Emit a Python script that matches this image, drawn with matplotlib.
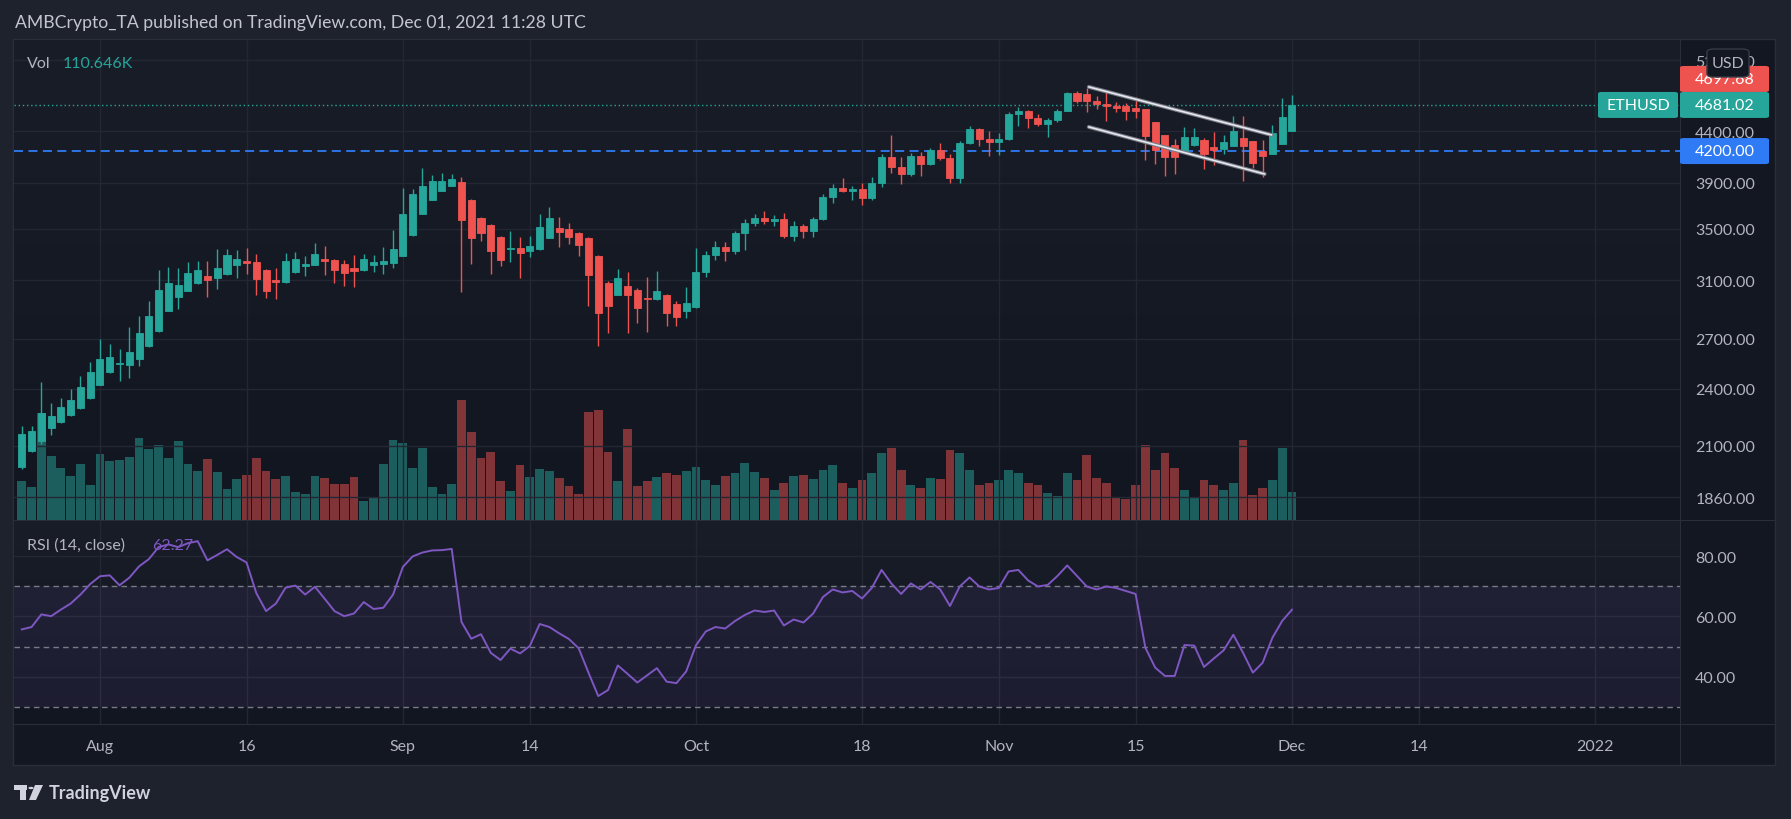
import numpy as np
import pandas as pd
import matplotlib
matplotlib.use("Agg")
import matplotlib.pyplot as plt
import matplotlib.dates as mdates
from matplotlib.patches import Rectangle, FancyBboxPatch, Polygon, Circle
from matplotlib.colors import LinearSegmentedColormap
from matplotlib.ticker import NullLocator, NullFormatter

plt.rcParams['font.family'] = ['Lato', 'DejaVu Sans']

W, H = 1791, 820

## daily ETHUSD candles, Jul 24 - Dec 1 2021
dates = pd.date_range("2021-07-24", "2021-12-01", freq="D")
opens = [1999, 2075, 2125, 2191, 2222, 2259, 2296, 2351,
         2424, 2499, 2545, 2541, 2577, 2657, 2752, 2885, 2981, 3024, 3082, 3130, 3118, 3148, 3215, 3240,
         3235, 3175, 3101, 3089, 3162, 3207, 3215, 3258, 3250, 3220, 3190, 3177, 3215, 3222, 3230,
         3284, 3450, 3625, 3746, 3826, 3872, 3905, 3743, 3588, 3530, 3431, 3338, 3343, 3322, 3338,
         3426, 3505, 3496, 3463, 3423, 3281, 3082, 2996, 3058, 3031, 2970, 2963, 2994, 2931, 2885,
         2913, 3157, 3290, 3350, 3320, 3460, 3550, 3590, 3560, 3580, 3440, 3520, 3480, 3580, 3770,
         3850, 3820, 3840, 3760, 3900, 4140, 4050, 3980, 4150, 4070, 4210, 4130, 3940, 4280, 4420,
         4320, 4290, 4320, 4580, 4610, 4540, 4480, 4520, 4620, 4810, 4800, 4720, 4690, 4673, 4670,
         4644, 4637, 4497, 4362, 4260, 4194, 4260, 4311, 4240, 4221, 4254, 4331, 4300, 4200, 4174,
         4274, 4406]
highs = [2201, 2201, 2440, 2322, 2349, 2399, 2474, 2557,
         2699, 2667, 2636, 2776, 2849, 2951, 3175, 3197, 3190, 3235, 3243, 3245, 3336, 3336, 3328, 3343,
         3296, 3180, 3190, 3304, 3312, 3281, 3383, 3359, 3255, 3250, 3289, 3296, 3289, 3351, 3488,
         3850, 3842, 4036, 3970, 3989, 3979, 3952, 3750, 3595, 3535, 3440, 3483, 3434, 3442, 3625,
         3685, 3599, 3549, 3470, 3430, 3290, 3096, 3182, 3160, 3040, 3121, 3168, 3000, 2951, 3048,
         3343, 3320, 3400, 3390, 3480, 3580, 3620, 3650, 3610, 3630, 3560, 3540, 3600, 3800, 3890,
         3940, 3870, 3900, 3950, 4170, 4360, 4140, 4180, 4190, 4230, 4280, 4170, 4300, 4450, 4430,
         4400, 4380, 4600, 4660, 4630, 4580, 4540, 4640, 4830, 4840, 4870, 4780, 4823, 4710, 4703,
         4766, 4640, 4500, 4365, 4321, 4444, 4434, 4331, 4393, 4362, 4561, 4561, 4305, 4311, 4466,
         4759, 4792]
lows = [1990, 2070, 2110, 2155, 2215, 2250, 2290, 2345,
        2420, 2490, 2447, 2460, 2535, 2650, 2745, 2880, 2899, 3020, 3075, 2981, 3038, 3140, 3118, 3145,
        2996, 2973, 2968, 3080, 3155, 3133, 3210, 3140, 3082, 3060, 3053, 3170, 3162, 3148, 3192,
        3280, 3440, 3620, 3740, 3820, 3865, 3017, 3222, 3402, 3148, 3207, 3238, 3118, 3276, 3330,
        3420, 3354, 3378, 3284, 2919, 2657, 2739, 2990, 2739, 2805, 2746, 2958, 2785, 2785, 2838,
        2905, 3120, 3250, 3240, 3300, 3330, 3520, 3540, 3520, 3420, 3400, 3420, 3430, 3570, 3720,
        3810, 3740, 3700, 3740, 3860, 3990, 3890, 3960, 3960, 4060, 4110, 3900, 3900, 4270, 4250,
        4150, 4160, 4310, 4460, 4430, 4450, 4340, 4500, 4610, 4700, 4600, 4640, 4511, 4601, 4522,
        4540, 4116, 4077, 3964, 3979, 4190, 4250, 4027, 4065, 4171, 4250, 3918, 4039, 3955, 4170,
        4270, 4400]
closes = [2158, 2174, 2266, 2252, 2300, 2338, 2411, 2497,
          2575, 2587, 2549, 2618, 2737, 2849, 3029, 3080, 3065, 3153, 3175, 3103, 3190, 3289, 3258, 3230,
          3111, 3024, 3084, 3243, 3258, 3220, 3296, 3245, 3177, 3155, 3168, 3258, 3235, 3243, 3336,
          3622, 3797, 3869, 3915, 3915, 3933, 3574, 3426, 3466, 3322, 3253, 3343, 3307, 3359, 3513,
          3588, 3472, 3434, 3370, 3140, 2871, 2919, 3116, 2996, 2905, 2962, 3024, 2871, 2845, 2940,
          3157, 3290, 3350, 3320, 3460, 3550, 3590, 3560, 3580, 3440, 3520, 3480, 3580, 3770, 3850,
          3820, 3840, 3760, 3900, 4140, 4050, 3980, 4150, 4070, 4210, 4130, 3940, 4280, 4420, 4320,
          4290, 4320, 4580, 4610, 4540, 4480, 4520, 4620, 4810, 4730, 4720, 4690, 4673, 4648, 4619,
          4619, 4355, 4214, 4145, 4145, 4341, 4341, 4174, 4214, 4291, 4403, 4254, 4087, 4155, 4382,
          4550, 4681.02]
volume_k = [157, 133, 430, 257, 209, 177, 225, 141,
            265, 237, 241, 253, 330, 286, 302, 249, 318, 225, 197, 245, 193, 125, 165, 181,
            249, 197, 165, 177, 113, 105, 177, 169, 145, 145, 173, 76, 93, 225, 322,
            310, 209, 290, 133, 105, 145, 483, 354, 249, 274, 157, 117, 221, 173, 205,
            197, 169, 137, 105, 434, 442, 274, 157, 366, 137, 157, 173, 189, 181, 197,
            213, 160, 140, 175, 190, 230, 195, 170, 120, 150, 175, 180, 165, 200, 220,
            150, 130, 160, 190, 270, 290, 200, 140, 130, 170, 165, 280, 270, 200, 140,
            150, 160, 200, 190, 150, 140, 110, 95, 190, 160, 260, 170, 150, 90, 85,
            140, 300, 200, 270, 210, 120, 90, 160, 140, 120, 150, 320, 100, 130, 160,
            290, 110.646]
rsi = [55.7, 56.5, 60.7, 60.1, 62.3, 64.3, 67.3, 70.8,
       73.4, 73.7, 70.4, 72.9, 76.7, 79.1, 83.1, 84.0, 83.1, 84.4, 85.1, 78.7, 80.5, 82.4, 79.8, 78.0,
       67.8, 61.8, 64.3, 69.6, 70.3, 67.3, 69.9, 65.9, 61.8, 60.1, 61.0, 64.8, 62.5, 62.9, 67.3,
       76.5, 80.0, 81.3, 82.0, 82.1, 82.5, 58.2, 52.6, 54.1, 47.9, 45.5, 49.3, 47.7, 50.2, 57.5,
       56.5, 54.4, 52.5, 49.4, 41.3, 33.5, 35.5, 43.7, 40.9, 38.0, 40.4, 42.8, 38.3, 37.8, 41.7,
       50.4, 55.0, 56.5, 56.0, 58.5, 60.5, 62.0, 61.5, 62.0, 57.0, 59.0, 58.0, 61.0, 66.5, 69.0,
       68.0, 68.5, 66.0, 69.5, 75.5, 71.0, 67.5, 71.0, 69.0, 71.5, 69.0, 63.5, 70.0, 73.0, 70.0,
       69.0, 69.5, 75.0, 75.5, 72.0, 70.0, 70.5, 73.5, 77.0, 73.5, 70.0, 69.0, 70.0, 69.5, 68.5,
       67.5, 49.6, 43.0, 40.2, 40.2, 50.5, 50.3, 43.2, 46.0, 48.7, 53.9, 47.9, 41.3, 44.6, 52.9,
       58.5, 62.27]

price_ticks = [1860, 2100, 2400, 2700, 3100, 3500, 3900, 4400, 5200]
rsi_ticks = [40, 60, 80]
time_ticks = ["2021-08-01", "2021-08-16", "2021-09-01", "2021-09-14", "2021-10-01", "2021-10-18",
              "2021-11-01", "2021-11-15", "2021-12-01", "2021-12-14", "2022-01-01"]
time_labels = ["Aug", "16", "Sep", "14", "Oct", "18", "Nov", "15", "Dec", "14", "2022"]

last_price = 4681.02
prev_tag = 4697.68
level = 4200.00
vol_last = "110.646K"
rsi_last = "62.27"

## falling channel drawn on the chart
upper_line = (["2021-11-10 05:00", "2021-11-28 22:00"], [4884, 4362])
lower_line = (["2021-11-10 05:00", "2021-11-28 05:00"], [4445, 3979])

UP, DOWN = "#26a69a", "#ef5350"
BLUE = "#2f7bf5"
TXT = "#b2b5be"
GRID = "#232733"
SEP = "#2a2e39"


def F(x, y):
    return x / W, 1 - y / H


def px_rect(x0, y0, x1, y1, **kw):
    return Rectangle((x0 / W, 1 - y1 / H), (x1 - x0) / W, (y1 - y0) / H,
                     transform=fig.transFigure, **kw)


fig = plt.figure(figsize=(W / 100, H / 100), dpi=100, facecolor="#1e222d")
fig.add_artist(px_rect(13, 40, 1775, 766, fc="#131722", ec=SEP, lw=1, zorder=-10))

x = mdates.date2num(dates)
x0 = mdates.date2num(pd.Timestamp("2021-08-01"))
xlim = (x0 - 8.80, x0 + 161.72)
o = np.array(opens)
c = np.array(closes)
up = c >= o
cols = np.where(up, UP, DOWN)
vcols = np.where(up, "#26a69a80", "#ef535080")
tick_x = mdates.date2num(pd.to_datetime(time_ticks))

grad = np.linspace(0, 1, 256).reshape(-1, 1)
bg_cmap = LinearSegmentedColormap.from_list("bg", ["#191d28", "#121620"])

main_rect = [14 / W, 1 - 521 / H, 1666 / W, 480 / H]
rsi_rect = [14 / W, 1 - 725 / H, 1666 / W, 203 / H]

## volume underneath
vax = fig.add_axes(main_rect)
vax.imshow(grad, cmap=bg_cmap, extent=(0, 1, 0, 1), transform=vax.transAxes, aspect="auto", zorder=0)
vax.bar(x, volume_k, width=0.9, color=vcols, lw=0, zorder=2)
vax.set_xlim(xlim)
vax.set_ylim(0, 1931)
vax.axis("off")

## candles
ax = fig.add_axes(main_rect)
ax.patch.set_visible(False)
ax.set_yscale("log")
ax.vlines(x, lows, highs, colors=cols, lw=1.0, zorder=3)
ax.bar(x, np.abs(c - o), bottom=np.minimum(o, c), width=0.72, color=cols,
       edgecolor=cols, linewidth=0.6, zorder=4)
ax.axhline(level, color=BLUE, ls=(0, (5, 3)), lw=1.3, zorder=2)
ax.axhline(last_price, color=UP, ls=(0, (1, 2)), lw=1.0, zorder=2)
for line in (upper_line, lower_line):
    lx = mdates.date2num(pd.to_datetime(line[0]))
    ax.plot(lx, line[1], color="#787b86", lw=2.8, solid_capstyle="round", zorder=5)
    ax.plot(lx, line[1], color="#e6e8ee", lw=1.2, solid_capstyle="round", zorder=6)
ax.set_xlim(xlim)
ax.set_ylim(1763, 5454)
ax.set_xticks(tick_x)
ax.yaxis.tick_right()
ax.set_yticks(price_ticks, labels=[f"{t:.2f}" for t in price_ticks])
ax.yaxis.set_minor_locator(NullLocator())
ax.yaxis.set_minor_formatter(NullFormatter())
ax.tick_params(axis="y", length=0, pad=11, labelcolor=TXT, labelsize=11.5)
ax.tick_params(axis="x", length=0, labelbottom=False)
ax.grid(True, color=GRID, lw=1, zorder=1)
ax.set_axisbelow(True)
for s in ax.spines.values():
    s.set_visible(False)

## RSI pane
rax = fig.add_axes(rsi_rect)
rax.imshow(grad, cmap=bg_cmap, extent=(0, 1, 0, 1), transform=rax.transAxes, aspect="auto", zorder=0)
rax.axhspan(30, 70, color="#7e57c2", alpha=0.1, lw=0, zorder=1)
for lv in (70, 50, 30):
    rax.axhline(lv, color="#787b86", ls=(0, (4, 3)), lw=1.0, zorder=2)
rax.plot(x, rsi, color="#7e57c2", lw=1.4, zorder=4)
rax.set_xlim(xlim)
rax.set_ylim(24.2, 91.8)
rax.set_xticks(tick_x)
rax.yaxis.tick_right()
rax.set_yticks(rsi_ticks, labels=[f"{t:.2f}" for t in rsi_ticks])
rax.tick_params(axis="y", length=0, pad=11, labelcolor=TXT, labelsize=11.5)
rax.tick_params(axis="x", length=0, labelbottom=False)
rax.grid(True, color=GRID, lw=1, zorder=1)
rax.set_axisbelow(True)
for s in rax.spines.values():
    s.set_visible(False)

## time scale
tax = fig.add_axes([14 / W, 1 - 766 / H, 1666 / W, 41 / H])
tax.set_xlim(xlim)
tax.set_ylim(0, 1)
tax.axis("off")
for tx, tl in zip(tick_x, time_labels):
    tax.text(tx, 0.47, tl, ha="center", va="center", color=TXT, fontsize=11.5)

## pane separators
fig.add_artist(px_rect(13, 520.5, 1775, 522, fc=SEP, lw=0))
fig.add_artist(px_rect(13, 724.5, 1775, 726, fc=SEP, lw=0))
fig.add_artist(px_rect(1679.5, 41, 1681, 766, fc=SEP, lw=0))


## price tags on the right scale
def ypix(price):
    return H - ax.transData.transform((xlim[0], price))[1]


def tag(yc, text, color, x0=1680, x1=1769, tx=1695, ha="left"):
    fig.add_artist(FancyBboxPatch((x0 / W, 1 - (yc + 13) / H), (x1 - x0) / W, 26 / H,
                                  boxstyle="round,pad=0,rounding_size=0.002",
                                  transform=fig.transFigure, fc=color, ec="none", zorder=10))
    fig.text(tx / W, 1 - yc / H, text, color="white", fontsize=11.5, va="center", ha=ha, zorder=11)


y_last = ypix(last_price)
tag(y_last - 26, f"{prev_tag:.2f}", DOWN)
tag(y_last, f"{last_price:.2f}", UP)
tag(y_last, "ETHUSD", UP, x0=1598, x1=1678, tx=1638, ha="center")
tag(ypix(level), f"{level:.2f}", BLUE)

## USD badge
fig.add_artist(FancyBboxPatch((1707 / W, 1 - 78 / H), 42 / W, 28 / H,
                              boxstyle="round,pad=0,rounding_size=0.004",
                              transform=fig.transFigure, fc="#131722", ec="#363a45", lw=1, zorder=12))
fig.text(1728 / W, 1 - 64 / H, "USD", color=TXT, fontsize=11.5, ha="center", va="center", zorder=13)

## legends
fig.text(*F(14.5, 23), "AMBCrypto_TA published on TradingView.com, Dec 01, 2021 11:28 UTC",
         color="#c3c6cd", fontsize=12.7, va="center")
fig.text(*F(27, 64), "Vol", color=TXT, fontsize=11.5, va="center")
fig.text(*F(63, 64), vol_last, color=UP, fontsize=11.5, va="center")
fig.text(*F(27, 546), "RSI (14, close)", color=TXT, fontsize=11.5, va="center")
fig.text(*F(152, 546), rsi_last, color="#7e57c2", fontsize=11.5, va="center")

## TradingView logo
logo = "#d1d4dc"
fig.add_artist(px_rect(14, 786, 27, 791, fc=logo, lw=0))
fig.add_artist(px_rect(20, 786, 26, 801, fc=logo, lw=0))
fig.add_artist(Circle(F(31, 789), 2.6 / W, transform=fig.transFigure, fc=logo, lw=0))
fig.add_artist(Polygon([F(35, 786), F(43, 786), F(36, 801), F(29, 801)], closed=True,
                       transform=fig.transFigure, fc=logo, lw=0))
fig.text(*F(49, 794), "TradingView", color=logo, fontsize=13, va="center", weight="bold")

fig.savefig("out.png", dpi=100, facecolor=fig.get_facecolor())
